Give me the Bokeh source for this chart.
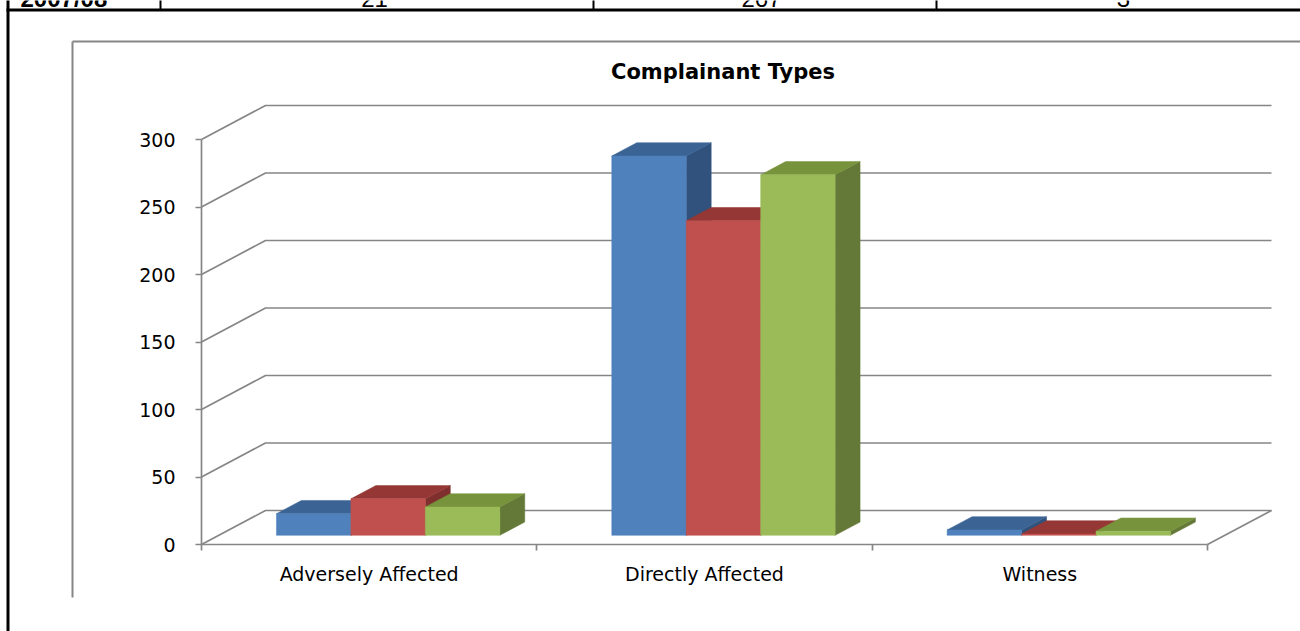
from bokeh.plotting import figure
from bokeh.models import Range1d, LinearAxis, FixedTicker
from bokeh.embed import file_html
from bokeh.resources import INLINE
from bokeh.core.properties import value

# ---------------- data ----------------
chart_title = "Complainant Types"
categories = ["Adversely Affected", "Directly Affected", "Witness"]
series_names = ["2005/06", "2006/07", "2007/08"]
blue_vals = [16, 281, 4]
red_vals = [27, 233, 1]
green_vals = [21, 267, 3]
y_ticks = [0, 50, 100, 150, 200, 250, 300]
table_year = "2007/08"
table_values = green_vals  # the (cut-off) table row above the chart

series_vals = [blue_vals, red_vals, green_vals]
front_colors = ["#4F81BD", "#C0504D", "#9BBB59"]
top_colors = ["#3B6495", "#953735", "#77933C"]
side_colors = ["#31527D", "#7F302E", "#647937"]

# ---------------- page geometry ----------------
W, H = 1300, 631
X0_PX, UNIT_PX = 201.0, 335.33   # front-plane origin and px per category
Y0_PX, VAL_PX = 544.0, 1.35      # px of value 0 and px per value unit


def ux(px):
    return (px - X0_PX) / UNIT_PX


def vy(py):
    return (Y0_PX - py) / VAL_PX


DX = 64.0 / UNIT_PX   # depth offset (x) of the back wall
DY = 34.0 / VAL_PX    # depth offset (y) of the back wall
F1, F2 = 0.27, 0.66   # bar front/back depth fractions
BAR_W = 0.222
BAR_START = 0.172
NCAT = len(categories)
YMAX = y_ticks[-1]

p = figure(width=W, height=H, x_range=Range1d(ux(0), ux(W)),
           y_range=Range1d(vy(H), vy(0)), x_axis_type=None, y_axis_type=None,
           toolbar_location=None, output_backend="svg", min_border=0)
p.outline_line_color = None
p.background_fill_color = "white"
p.border_fill_color = "white"

GRID = "#868686"

# chart frame (gray) and page/table borders (black)
p.segment(x0=[ux(72), ux(72)], y0=[vy(41), vy(41)], x1=[ux(72), ux(W)], y1=[vy(597), vy(41)],
          line_color=GRID, line_width=2)
p.segment(x0=[ux(7.5), ux(6)], y0=[vy(-2), vy(9.5)], x1=[ux(7.5), ux(W)], y1=[vy(H + 2), vy(9.5)],
          line_color="black", line_width=3)
for xd in [160, 593, 936]:
    p.segment(x0=[ux(xd)], y0=[vy(-2)], x1=[ux(xd)], y1=[vy(9)], line_color="black", line_width=2)

table_texts = [table_year] + [str(v) for v in table_values]
p.text(x=[ux(20)], y=[vy(-2)], text=[table_texts[0]], text_font=value("Liberation Sans"),
       text_font_size="24px", text_font_style="bold", text_align="left", text_baseline="alphabetic",
       text_color="black")
p.text(x=[ux(374), ux(761), ux(1123)], y=[vy(-2)] * 3, text=table_texts[1:],
       text_font=value("Liberation Sans"), text_font_size="24px", text_align="center",
       text_baseline="alphabetic", text_color="black")

# title
p.text(x=[ux(722.5)], y=[vy(71)], text=[chart_title], text_font=value("DejaVu Sans"),
       text_font_size="21px", text_font_style="bold", text_align="center",
       text_baseline="alphabetic", text_color="black")

# walls: gridlines on side wall and back wall
gx, gy = [], []
for t in y_ticks:
    gx.append([0, DX, NCAT + DX])
    gy.append([t, t + DY, t + DY])
# floor right edge
gx.append([NCAT, NCAT + DX])
gy.append([0, DY])
p.multi_line(xs=gx, ys=gy, line_color=GRID, line_width=1.7)

# bars
sx, sy, sc = [], [], []
tx, ty, tc = [], [], []
fl, fr, fb, ft, fc = [], [], [], [], []
for i in range(NCAT):
    for s, vals in enumerate(series_vals):
        v = vals[i]
        x0 = i + BAR_START + s * BAR_W
        x1 = x0 + BAR_W
        a_x, a_y = F1 * DX, F1 * DY
        b_x, b_y = F2 * DX, F2 * DY
        # side face
        sx.append([x1 + a_x, x1 + b_x, x1 + b_x, x1 + a_x])
        sy.append([a_y, b_y, v + b_y, v + a_y])
        sc.append(side_colors[s])
        # top face
        tx.append([x0 + a_x, x1 + a_x, x1 + b_x, x0 + b_x])
        ty.append([v + a_y, v + a_y, v + b_y, v + b_y])
        tc.append(top_colors[s])
        # front face
        fl.append(x0 + a_x)
        fr.append(x1 + a_x)
        fb.append(a_y)
        ft.append(v + a_y)
        fc.append(front_colors[s])

p.patches(xs=sx, ys=sy, fill_color=sc, line_color=sc, line_width=0.5)
p.patches(xs=tx, ys=ty, fill_color=tc, line_color=tc, line_width=0.5)
p.quad(left=fl, right=fr, bottom=fb, top=ft, fill_color=fc, line_color=fc, line_width=0.5)

# front value axis
yaxis = LinearAxis(fixed_location=0, bounds=(0, YMAX), ticker=FixedTicker(ticks=y_ticks),
                   axis_line_color=GRID, axis_line_width=1.7,
                   major_tick_line_color=GRID, major_tick_line_width=1.7,
                   major_tick_out=6, major_tick_in=0, minor_tick_line_color=None,
                   major_label_standoff=20, major_label_text_font="DejaVu Sans",
                   major_label_text_font_size="19px", major_label_text_color="black")
p.add_layout(yaxis, "left")

# front floor edge with category boundary ticks
xaxis = LinearAxis(fixed_location=0, bounds=(0, NCAT), ticker=FixedTicker(ticks=list(range(NCAT + 1))),
                   axis_line_color=GRID, axis_line_width=1.7,
                   major_tick_line_color=GRID, major_tick_line_width=1.7,
                   major_tick_out=6, major_tick_in=0, minor_tick_line_color=None,
                   major_label_overrides={k: "" for k in range(NCAT + 1)})
p.add_layout(xaxis, "below")

# category labels
catax = LinearAxis(fixed_location=0, ticker=FixedTicker(ticks=[i + 0.5 for i in range(NCAT)]),
                   axis_line_color=None, major_tick_line_color=None, minor_tick_line_color=None,
                   major_tick_out=0, major_tick_in=0, major_label_standoff=18,
                   major_label_overrides={i + 0.5: c for i, c in enumerate(categories)},
                   major_label_text_font="DejaVu Sans", major_label_text_font_size="19px",
                   major_label_text_color="black")
p.add_layout(catax, "below")

open("out.html", "w").write(file_html(p, INLINE))
